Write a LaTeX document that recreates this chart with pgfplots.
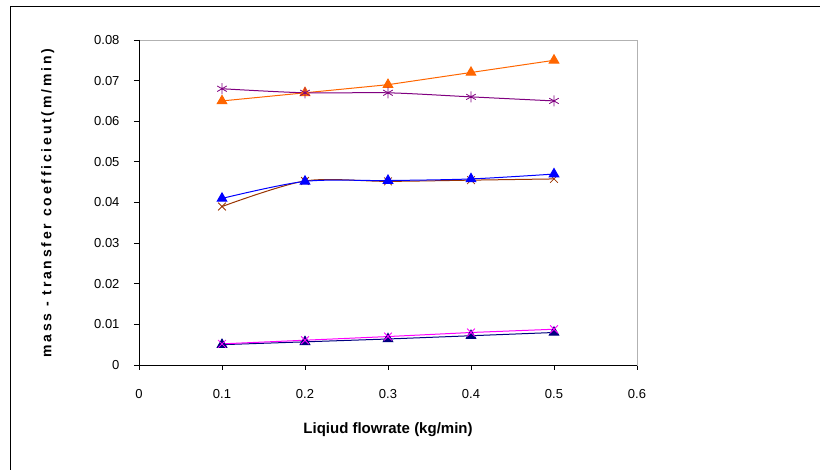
\documentclass[border=0pt]{standalone}
\usepackage{pgfplots}
\pgfplotsset{compat=1.18}
\usepackage{fontspec}
\setmainfont{Liberation Sans}
\definecolor{corange}{RGB}{255,102,0}
\definecolor{cpurple}{RGB}{128,0,128}
\definecolor{cblue}{RGB}{0,0,255}
\definecolor{cbrown}{RGB}{153,51,0}
\definecolor{cnavy}{RGB}{0,0,128}
\definecolor{cmagenta}{RGB}{255,0,255}
\begin{document}
\begin{tikzpicture}[x=1pt,y=1pt]
\useasboundingbox (0,0) rectangle (820,470);
\draw[line width=1pt] (10,-2) -- (10,463) -- (822,463);
\begin{axis}[
  at={(139pt,105pt)}, anchor=south west,
  scale only axis, width=498pt, height=325pt,
  xmin=0, xmax=0.6, ymin=0, ymax=0.08,
  scaled x ticks=false, scaled y ticks=false,
  xtick={0,0.1,0.2,0.3,0.4,0.5,0.6},
  ytick={0,0.01,0.02,0.03,0.04,0.05,0.06,0.07,0.08},
  xticklabels={0,0.1,0.2,0.3,0.4,0.5,0.6},
  yticklabels={0,0.01,0.02,0.03,0.04,0.05,0.06,0.07,0.08},
  tick align=outside, xtick pos=left, ytick pos=left,
  major tick length=5pt,
  tick style={black, line width=0.8pt},
  axis line style={draw=gray!60, line width=0.8pt},
  ticklabel style={font=\fontsize{13}{15}\selectfont},
  xticklabel style={yshift=-16pt},
  yticklabel style={xshift=-11pt},
  xlabel={\bfseries Liqiud flowrate (kg/min)},
  xlabel style={font=\fontsize{15}{18}\selectfont, at={(axis description cs:0.5,-0.2)}, anchor=center},
  ylabel={\addfontfeatures{LetterSpace=20}\bfseries mass - transfer coefficieut(m/min)},
  ylabel style={font=\fontsize{14}{17}\selectfont, at={(axis description cs:-0.183,0.498)}, anchor=center},
  clip=false,
]
\draw[black, line width=0.8pt] (rel axis cs:0,1) -- (rel axis cs:0,0) -- (rel axis cs:1,0);
\addplot[corange, line width=1pt, mark=triangle*, mark size=5.5pt] coordinates {(0.1,0.065) (0.2,0.067) (0.3,0.069) (0.4,0.072) (0.5,0.075)};
\addplot[cpurple, line width=1pt, smooth, mark=asterisk, mark size=5.5pt, mark options={line width=0.8pt}] coordinates {(0.1,0.068) (0.2,0.067) (0.3,0.067) (0.4,0.066) (0.5,0.065)};
\addplot[cbrown, line width=1pt, smooth, mark=x, mark size=5.5pt, mark options={line width=0.8pt}] coordinates {(0.1,0.039) (0.2,0.0453) (0.3,0.0452) (0.4,0.0455) (0.5,0.0458)};
\addplot[cblue, line width=1pt, smooth, mark=triangle*, mark size=5.5pt] coordinates {(0.1,0.041) (0.2,0.0452) (0.3,0.0454) (0.4,0.0458) (0.5,0.047)};
\addplot[cnavy, line width=1pt, mark=triangle*, mark size=5.5pt] coordinates {(0.1,0.005) (0.2,0.0057) (0.3,0.0064) (0.4,0.0072) (0.5,0.008)};
\addplot[cmagenta, line width=1pt, mark=x, mark size=5.5pt, mark options={line width=0.8pt}] coordinates {(0.1,0.0052) (0.2,0.0061) (0.3,0.007) (0.4,0.008) (0.5,0.0088)};
\end{axis}
\end{tikzpicture}
\end{document}
